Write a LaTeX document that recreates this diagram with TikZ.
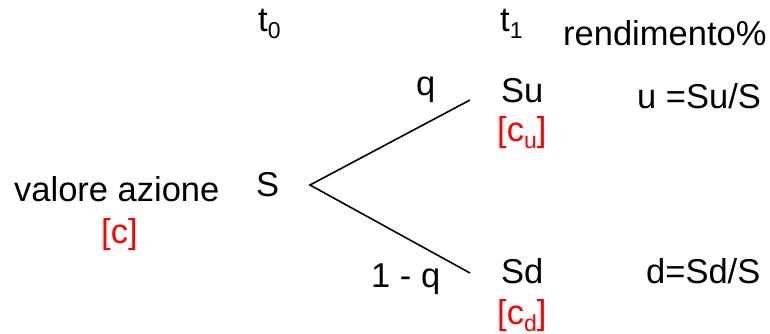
\documentclass[tikz,border=0pt]{standalone}
\usepackage{fontspec}
\setmainfont{Liberation Sans}
\newcommand{\sbs}[1]{\raisebox{-0.22em}{\fontsize{23}{23}\selectfont #1}}
\tikzset{
  lbl/.style={anchor=base west, inner sep=0pt, font=\fontsize{34.5}{40}\selectfont},
  redlbl/.style={lbl, text=red},
  branch/.style={draw=black, line width=1.6pt}
}
\begin{document}
\begin{tikzpicture}[x=1pt,y=-1pt]
\useasboundingbox (0,0) rectangle (770,333);
\node[lbl] (t0) at (258,31) {t\sbs{0}};
\node[lbl] (t1) at (500,31) {t\sbs{1}};
\node[lbl] (rend) at (563,45) {rendimento\%};
\node[lbl] (q) at (416,95) {q};
\node[lbl] (su) at (501,102) {Su};
\node[lbl] (uform) at (637,108) {u =Su/S};
\node[redlbl] (cu) at (497,141) {[c\sbs{u}]};
\node[lbl] (valore) at (14,201) {valore azione};
\node[lbl] (s) at (256,196) {S};
\node[redlbl] (c) at (101,243) {[c]};
\node[lbl] (oneq) at (371,287) {1 - q};
\node[lbl] (sd) at (501,283) {Sd};
\node[lbl] (dform) at (646,283) {d=Sd/S};
\node[redlbl] (cd) at (497,324) {[c\sbs{d}]};
\coordinate (v) at (310,185);
\coordinate (uend) at (470,100);
\coordinate (dend) at (470,273);
\draw[branch] (uend) -- (v) -- (dend);
\end{tikzpicture}
\end{document}
